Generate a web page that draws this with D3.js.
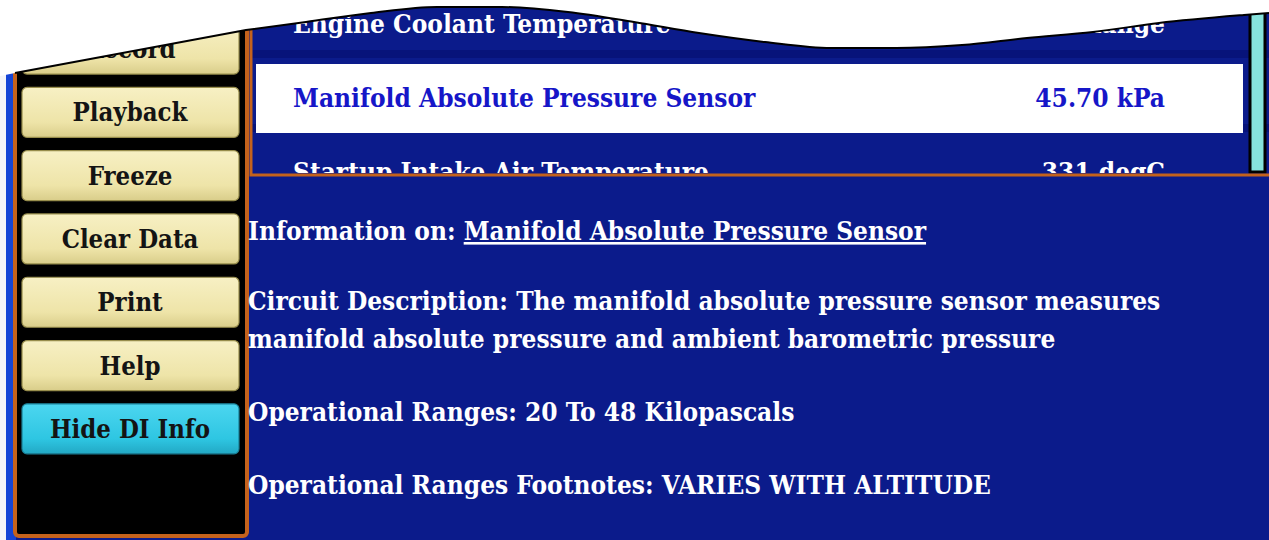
<!DOCTYPE html>
<html>
<head>
<meta charset="utf-8">
<script src="https://cdn.jsdelivr.net/npm/d3@7"></script>
<style>
  body { margin: 0; background: #fff; }
  svg { display: block; }
  text { font-family: "DejaVu Serif Condensed", "DejaVu Serif", serif; font-weight: bold; font-stretch: condensed; }
</style>
</head>
<body>
<div id="chart"></div>
<script>
// side menu buttons, top to bottom
const buttons = ['Record', 'Playback', 'Freeze', 'Clear Data', 'Print', 'Help', 'Hide DI Info'];
const activeButton = 'Hide DI Info';

// data list rows
const paramNames = ['Engine Coolant Temperature', 'Manifold Absolute Pressure Sensor', 'Startup Intake Air Temperature'];
const paramValues = ['Out of Range', '45.70 kPa', '331 degC'];
const selectedParam = 'Manifold Absolute Pressure Sensor';

// info panel
const infoLabel = 'Information on: ';
const infoLines = [
    'Circuit Description: The manifold absolute pressure sensor measures',
    'manifold absolute pressure and ambient barometric pressure',
    'Operational Ranges: 20 To 48 Kilopascals',
    'Operational Ranges Footnotes: VARIES WITH ALTITUDE'
];

const W = 1269, H = 540;
const navy = '#0b1b8b', orange = '#c4621c';

let svg = d3.select('#chart').append('svg')
    .attr('width', W)
    .attr('height', H);

let defs = svg.append('defs');
let gKhaki = defs.append('linearGradient').attr('id', 'khaki').attr('x1', 0).attr('x2', 0).attr('y1', 0).attr('y2', 1);
gKhaki.append('stop').attr('offset', '0%').attr('stop-color', '#f7f0c4');
gKhaki.append('stop').attr('offset', '70%').attr('stop-color', '#eee4a8');
gKhaki.append('stop').attr('offset', '100%').attr('stop-color', '#d9cd8a');
let gCyan = defs.append('linearGradient').attr('id', 'cyan').attr('x1', 0).attr('x2', 0).attr('y1', 0).attr('y2', 1);
gCyan.append('stop').attr('offset', '0%').attr('stop-color', '#4cd6f0');
gCyan.append('stop').attr('offset', '70%').attr('stop-color', '#2ec6e2');
gCyan.append('stop').attr('offset', '100%').attr('stop-color', '#22a8c4');
defs.append('clipPath').attr('id', 'listClip')
    .append('rect').attr('x', 252).attr('y', 0).attr('width', W - 252).attr('height', 173);

// backgrounds
svg.append('rect').attr('x', 0).attr('y', 0).attr('width', W).attr('height', H).attr('fill', navy);
svg.append('rect').attr('x', 0).attr('y', 0).attr('width', 6).attr('height', H).attr('fill', '#f4f4f8');
svg.append('rect').attr('x', 6).attr('y', 0).attr('width', 10).attr('height', H).attr('fill', '#1444d6');

// left menu panel
svg.append('rect')
    .attr('x', 15).attr('y', 20).attr('width', 232).attr('height', 516)
    .attr('rx', 4)
    .attr('fill', '#000')
    .attr('stroke', orange)
    .attr('stroke-width', 4);

const btnY = d3.scaleBand()
    .domain(buttons)
    .range([17.7, 460.2])
    .paddingInner(0.21)
    .paddingOuter(0.1);

let btn = svg.append('g').selectAll('g')
    .data(buttons)
    .enter()
    .append('g')
    .attr('transform', d => 'translate(22,' + btnY(d) + ')');

btn.append('rect')
    .attr('width', 217)
    .attr('height', btnY.bandwidth())
    .attr('rx', 5)
    .attr('fill', d => d == activeButton ? 'url(#cyan)' : 'url(#khaki)')
    .attr('stroke', d => d == activeButton ? '#1a7f95' : '#978d4c')
    .attr('stroke-width', 1.2);

btn.append('text')
    .attr('x', 108)
    .attr('y', btnY.bandwidth() / 2 + 9)
    .attr('text-anchor', 'middle')
    .attr('fill', '#141414')
    .style('font-size', '25.5px')
    .text(d => d);

// parameter list
let list = svg.append('g').attr('clip-path', 'url(#listClip)');
list.append('rect').attr('x', 252).attr('y', 0).attr('width', W - 252).attr('height', 176).attr('fill', navy);

const rowY = d3.scaleBand()
    .domain(paramNames)
    .range([-12, 210])
    .padding(0);

list.selectAll('.sep')
    .data(paramNames)
    .enter()
    .append('rect')
    .attr('class', 'sep')
    .attr('x', 252).attr('width', W - 252)
    .attr('y', d => rowY(d) + rowY.bandwidth() - 12)
    .attr('height', 8)
    .attr('fill', '#07137a');

list.append('rect')
    .attr('x', 256).attr('y', rowY(selectedParam) + 2)
    .attr('width', 987).attr('height', rowY.bandwidth() - 5)
    .attr('fill', '#fff');

list.selectAll('.pname')
    .data(paramNames)
    .enter()
    .append('text')
    .attr('class', 'pname')
    .attr('x', 293)
    .attr('y', d => rowY(d) + 45)
    .attr('fill', d => d == selectedParam ? '#1616c8' : '#fff')
    .style('font-size', '26px')
    .text(d => d);

list.selectAll('.pval')
    .data(paramValues)
    .enter()
    .append('text')
    .attr('class', 'pval')
    .attr('x', 1165)
    .attr('y', (d, i) => rowY(paramNames[i]) + 45)
    .attr('text-anchor', 'end')
    .attr('fill', (d, i) => paramNames[i] == selectedParam ? '#1616c8' : '#fff')
    .style('font-size', '26px')
    .text(d => d);

// scrollbar
svg.append('rect')
    .attr('x', 1250).attr('y', 12).attr('width', 15).attr('height', 160)
    .attr('fill', '#86e2dc')
    .attr('stroke', '#000')
    .attr('stroke-width', 3);

// orange frame of the list
svg.append('path')
    .attr('d', 'M251,0 V175 H' + W)
    .attr('fill', 'none')
    .attr('stroke', orange)
    .attr('stroke-width', 3);

// info text
let info = svg.append('g').attr('fill', '#fff').style('font-size', '26px');
let head = info.append('text').attr('x', 248).attr('y', 240);
head.append('tspan').text(infoLabel);
head.append('tspan').attr('text-decoration', 'underline').text(selectedParam);

// the two description lines sit closer together than the rest
const lineBase = [310, 348, 421, 494];

info.selectAll('.line')
    .data(infoLines)
    .enter()
    .append('text')
    .attr('class', 'line')
    .attr('x', 248)
    .attr('y', (d, i) => lineBase[i])
    .text(d => d);

// torn paper edge on top
const edgeLeft = [[0, 76], [15, 73], [246, 30]];
const edgeWave = [[246, 30], [306, 22], [371, 13], [437, 7], [502, 7], [568, 12], [634, 22], [699, 33],
    [765, 42], [831, 48], [896, 48], [962, 45], [1027, 38], [1093, 32], [1159, 23], [1244, 15], [1269, 13]];
const wave = d3.line().curve(d3.curveMonotoneX);
const straight = d3.line();
const edgePath = straight(edgeLeft) + wave(edgeWave).replace(/^M[^LC]*/, '');
svg.append('path')
    .attr('d', edgePath + 'L' + W + ',0 L0,0 Z')
    .attr('fill', '#fff');
svg.append('path')
    .attr('d', straight(edgeLeft.slice(1)) + wave(edgeWave).replace(/^M[^LC]*/, ''))
    .attr('fill', 'none')
    .attr('stroke', '#000')
    .attr('stroke-width', 2);
</script>
</body>
</html>
